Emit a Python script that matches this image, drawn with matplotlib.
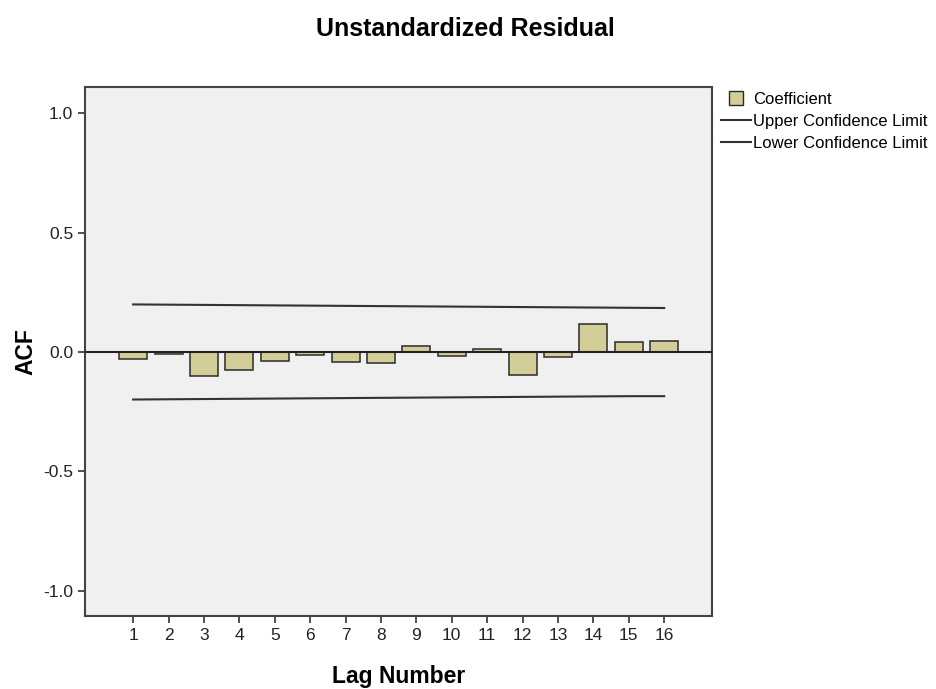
import numpy as np
import matplotlib.pyplot as plt
from matplotlib.patches import Patch, Rectangle
from matplotlib.lines import Line2D
from matplotlib.legend_handler import HandlerPatch

plt.rcParams['font.family'] = ['Liberation Sans', 'DejaVu Sans']

lags = [1, 2, 3, 4, 5, 6, 7, 8, 9, 10, 11, 12, 13, 14, 15, 16]
coef = [-0.031, -0.009, -0.100, -0.077, -0.037, -0.011, -0.040, -0.045,
        0.027, -0.015, 0.013, -0.096, -0.020, 0.119, 0.043, 0.047]
upper = [0.199, 0.198, 0.197, 0.196, 0.195, 0.194, 0.193, 0.192,
         0.191, 0.190, 0.189, 0.188, 0.187, 0.186, 0.185, 0.184]
lower = [-0.199, -0.198, -0.197, -0.196, -0.195, -0.194, -0.193, -0.192,
         -0.191, -0.190, -0.189, -0.188, -0.187, -0.186, -0.185, -0.185]
yticks = [-1.0, -0.5, 0.0, 0.5, 1.0]


def square_patch(legend, orig_handle, xdescent, ydescent, width, height, fontsize):
    # small square box centred in the handle area, like SPSS legends
    s = height * 1.2
    return Rectangle((xdescent + (width - s) / 2, ydescent + (height - s) / 2), s, s)


fig = plt.figure(figsize=(9.36, 6.89), dpi=100)
ax = fig.add_axes([0.0908, 0.106, 0.6699, 0.7677])
ax.set_facecolor('#f0f0f0')

ax.bar(lags, coef, width=0.79, color='#d3ce97', edgecolor='#2a2a2a', linewidth=1.1, zorder=3)
ax.axhline(0, color='#222222', linewidth=1.5, zorder=4)
ax.plot(lags, upper, color='#333333', linewidth=1.5, zorder=4)
ax.plot(lags, lower, color='#333333', linewidth=1.5, zorder=4)

ax.set_xlim(-0.36, 17.35)
ax.set_ylim(-1.105, 1.109)
ax.set_xticks(lags)
ax.set_yticks(yticks)
ax.set_yticklabels(['%.1f' % v for v in yticks])
ax.tick_params(direction='out', length=5, width=1.2, labelsize=12.5, color='#333333', labelcolor='#222222')
for s in ax.spines.values():
    s.set_color('#444444')
    s.set_linewidth(1.5)

ax.set_xlabel('Lag Number', fontsize=16.5, fontweight='bold', labelpad=16)
ax.set_ylabel('ACF', fontsize=16.5, fontweight='bold', labelpad=4)
fig.text(0.497, 0.958, 'Unstandardized Residual', ha='center', va='center',
         fontsize=18, fontweight='bold')

handles = [Patch(facecolor='#d3ce97', edgecolor='#2a2a2a', linewidth=1.0),
           Line2D([], [], color='#333333', linewidth=1.5),
           Line2D([], [], color='#333333', linewidth=1.5)]
fig.legend(handles, ['Coefficient', 'Upper Confidence Limit', 'Lower Confidence Limit'],
           loc='upper left', bbox_to_anchor=(0.763, 0.876), frameon=False, fontsize=12,
           handlelength=1.8, handletextpad=0.15, labelspacing=0.42, borderaxespad=0,
           handler_map={Patch: HandlerPatch(patch_func=square_patch)})

fig.savefig('out.png', dpi=100)
